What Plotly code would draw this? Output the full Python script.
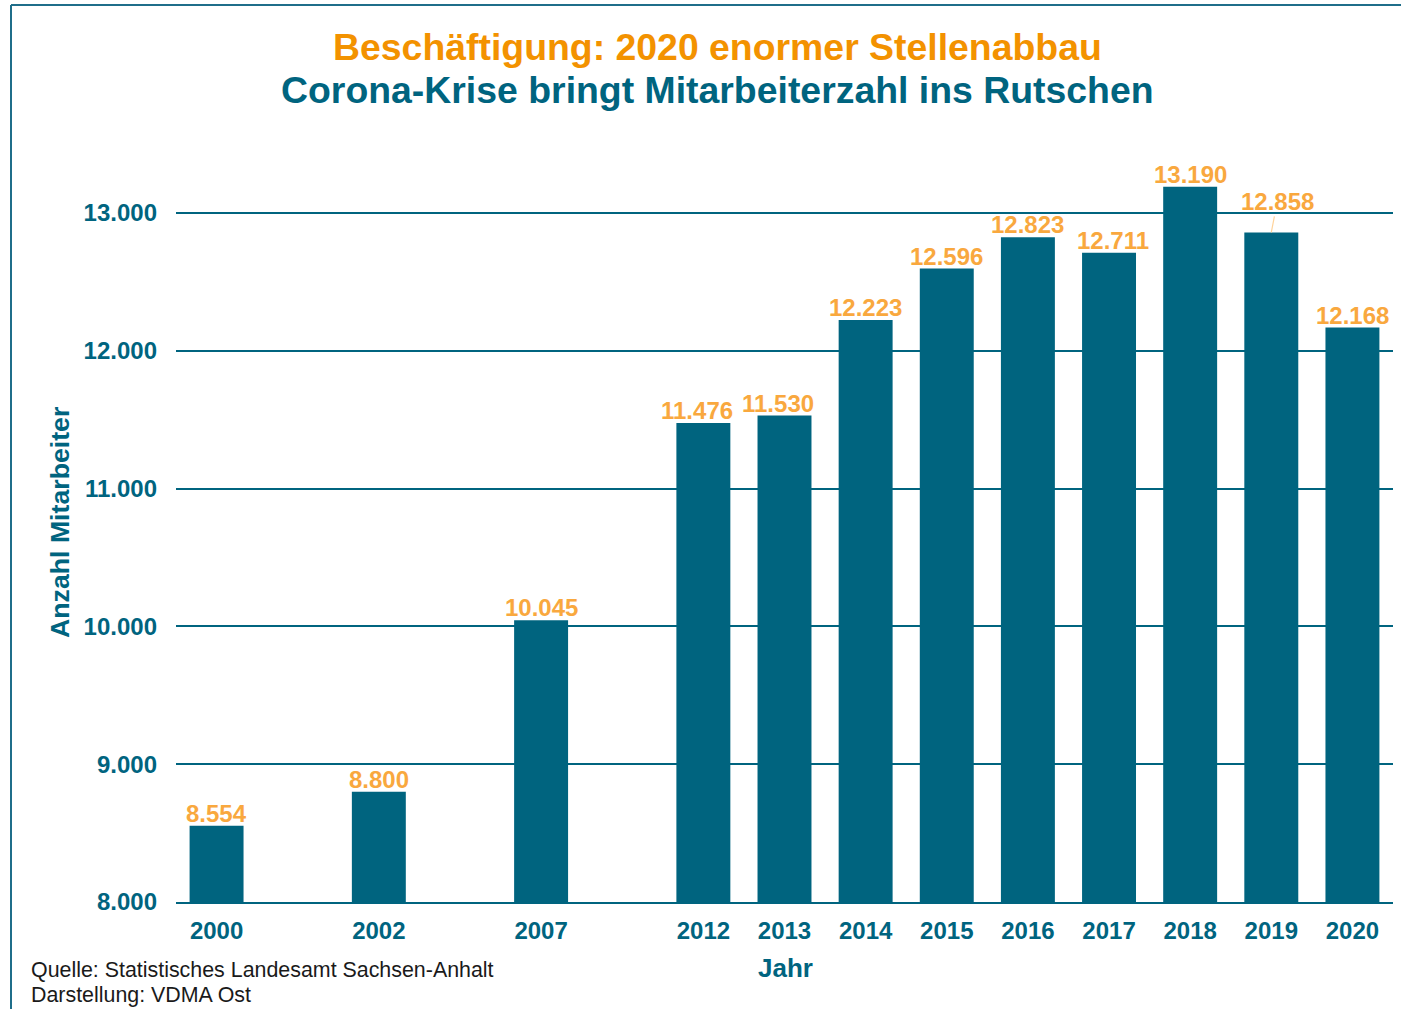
import plotly.graph_objects as go

# ---- data ----
years = ["2000", "2002", "2007", "2012", "2013", "2014", "2015",
         "2016", "2017", "2018", "2019", "2020"]
employees = [8554, 8800, 10045, 11476, 11530, 12223, 12596,
             12823, 12711, 13190, 12858, 12168]
# axis categories, with empty slots for the years without data
axis_categories = ["2000", "g1", "2002", "g2", "2007", "g3", "2012", "2013",
                   "2014", "2015", "2016", "2017", "2018", "2019", "2020"]
y_ticks = [8000, 9000, 10000, 11000, 12000, 13000]

title_line1 = "Beschäftigung: 2020 enormer Stellenabbau"
title_line2 = "Corona-Krise bringt Mitarbeiterzahl ins Rutschen"
y_title = "Anzahl Mitarbeiter"
x_title = "Jahr"
source_lines = ["Quelle: Statistisches Landesamt Sachsen-Anhalt",
                "Darstellung: VDMA Ost"]

# ---- styles ----
TEAL = "#00647F"
ORANGE_TITLE = "#F39200"
ORANGE_LABEL = "#F9A83E"
FONT = "Liberation Sans, Arial, sans-serif"

W, H = 1401, 1009
ML, MR, MT, MB = 176, 8, 144, 107
PW, PH = W - ML - MR, H - MT - MB

# small manual label nudges (pixels), as in the original layout
label_xshift = {"2012": -6, "2013": -7, "2017": 4}


def px_x(x):
    return (x - ML) / PW


def px_y(y):
    return (H - MB - y) / PH


def de(v):
    return f"{v:,}".replace(",", ".")


fig = go.Figure()
fig.add_trace(go.Bar(
    x=years, y=employees, width=0.665,
    marker=dict(color=TEAL, line=dict(width=0)),
    hoverinfo="x+y",
))

label_font = dict(family=FONT, size=24, color=ORANGE_LABEL, weight="bold")
annotations = []
for yr, v in zip(years, employees):
    xi = axis_categories.index(yr)
    if yr == "2019":
        annotations.append(dict(
            x=xi, y=v, xref="x", yref="y", text=de(v), showarrow=True,
            arrowhead=0, arrowwidth=1.2, arrowcolor="#FFD39A", ax=6, ay=-31,
            standoff=0, font=label_font,
        ))
    else:
        annotations.append(dict(
            x=xi, y=v, xref="x", yref="y", text=de(v), showarrow=False,
            yanchor="bottom", yshift=-3, xshift=label_xshift.get(yr, 0),
            font=label_font,
        ))

annotations += [
    dict(x=px_x(717), y=px_y(47), xref="paper", yref="paper", text=title_line1,
         showarrow=False, xanchor="center", yanchor="middle",
         font=dict(family=FONT, size=37.4, color=ORANGE_TITLE, weight="bold")),
    dict(x=px_x(717), y=px_y(90), xref="paper", yref="paper", text=title_line2,
         showarrow=False, xanchor="center", yanchor="middle",
         font=dict(family=FONT, size=37.4, color=TEAL, weight="bold")),
    dict(x=px_x(785), y=px_y(968), xref="paper", yref="paper", text=x_title,
         showarrow=False, xanchor="center", yanchor="middle",
         font=dict(family=FONT, size=26, color=TEAL, weight="bold")),
    dict(x=px_x(60), y=px_y(523), xref="paper", yref="paper", text=y_title,
         showarrow=False, xanchor="center", yanchor="middle", textangle=-90,
         font=dict(family=FONT, size=26.7, color=TEAL, weight="bold")),
    dict(x=px_x(29), y=px_y(970), xref="paper", yref="paper", text=source_lines[0],
         showarrow=False, xanchor="left", yanchor="middle",
         font=dict(family=FONT, size=21.4, color="#1a1a1a")),
    dict(x=px_x(29), y=px_y(995), xref="paper", yref="paper", text=source_lines[1],
         showarrow=False, xanchor="left", yanchor="middle",
         font=dict(family=FONT, size=21.4, color="#1a1a1a")),
]

shapes = [
    dict(type="line", xref="paper", yref="paper", x0=px_x(11), x1=px_x(11),
         y0=px_y(5), y1=px_y(1015), line=dict(color="#1F6E8A", width=2)),
    dict(type="line", xref="paper", yref="paper", x0=px_x(11), x1=px_x(1410),
         y0=px_y(5), y1=px_y(5), line=dict(color="#1F6E8A", width=2)),
]

fig.update_layout(
    width=W, height=H,
    margin=dict(l=ML, r=MR, t=MT, b=MB, pad=0),
    paper_bgcolor="white", plot_bgcolor="white",
    separators=",.",
    showlegend=False,
    annotations=annotations,
    shapes=shapes,
    font=dict(family=FONT, color=TEAL),
    xaxis=dict(
        type="category", categoryorder="array", categoryarray=axis_categories,
        range=[-0.5, len(axis_categories) - 0.5],
        tickvals=years, ticktext=years,
        tickfont=dict(family=FONT, size=24, color=TEAL, weight="bold"),
        showgrid=False, showline=True, linecolor=TEAL, linewidth=2,
        ticks="", ticklabelstandoff=6, zeroline=False,
    ),
    yaxis=dict(
        range=[8000, 13500], tickvals=y_ticks, tickformat=",d",
        tickfont=dict(family=FONT, size=24, color=TEAL, weight="bold"),
        showgrid=True, gridcolor=TEAL, gridwidth=1.5,
        showline=False, zeroline=False, ticks="", ticklabelstandoff=18,
    ),
)

fig.write_html("out.html", config={"displayModeBar": False},
               post_script="document.body.style.margin='0';")
